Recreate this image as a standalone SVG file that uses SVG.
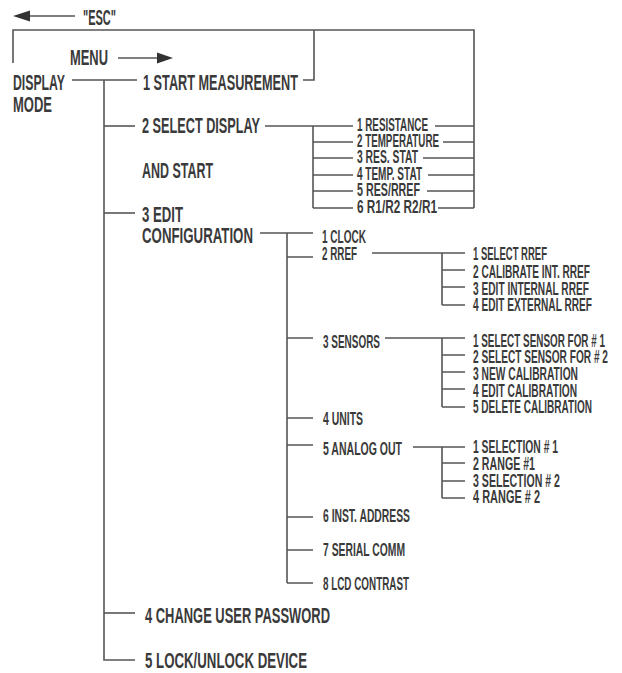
<svg xmlns="http://www.w3.org/2000/svg" width="622" height="673" viewBox="0 0 622 673">
<style>
.t{font-family:"Liberation Sans Narrow","Liberation Sans",Arial,sans-serif;font-weight:bold;fill:#3a3a3a}
.L{font-size:22px}
.S{font-size:18px}
.c{stroke:#555;stroke-width:1.6;fill:none}
.a{fill:#333}
</style>
<rect width="622" height="673" fill="#fff"/>
<g id="connectors" class="c">
<path d="M13,63 V30 H474 V208"/>
<path d="M303,80 H314 V30"/>
<path d="M72,80 H137"/>
<path d="M104,80 V660 H135"/>
<path d="M104,126 H135"/>
<path d="M104,213 H135"/>
<path d="M104,613 H135"/>
<path d="M265,126 H353"/>
<path d="M313,126 V208"/>
<path d="M313,142 H353 M313,158 H353 M313,175 H353 M313,191 H353 M313,208 H353"/>
<path d="M435,126 H474 M443,142 H474 M423,158 H474 M428,175 H474 M427,191 H474 M438,208 H474"/>
<path d="M260,233 H313"/>
<path d="M287,233 V583"/>
<path d="M287,257 H313 M287,338 H313 M287,418 H313 M287,445 H313 M287,517 H313 M287,550 H313 M287,583 H313"/>
<path d="M372,253 H465 M442,253 V305 M442,270 H465 M442,287 H465 M442,305 H465"/>
<path d="M385,338 H465 M442,338 V407 M442,355 H465 M442,372 H465 M442,389 H465 M442,407 H465"/>
<path d="M413,447 H465 M442,447 V498 M442,463 H465 M442,481 H465 M442,498 H465"/>
<path d="M28,16 H75"/>
<path d="M118,58 H160"/>
</g>
<g id="arrows">
<polygon class="a" points="13,16 30,10.5 30,21.5"/>
<polygon class="a" points="173,58 157,52.5 157,63.5"/>
</g>
<g id="esc"><text class="t L" x="83" y="25" textLength="33" lengthAdjust="spacingAndGlyphs">"ESC"</text></g>
<g id="menu"><text class="t L" x="70" y="65" textLength="38" lengthAdjust="spacingAndGlyphs">MENU</text></g>
<g id="display-mode">
<text class="t L" x="13" y="90" textLength="52" lengthAdjust="spacingAndGlyphs">DISPLAY</text>
<text class="t L" x="13" y="112" textLength="39" lengthAdjust="spacingAndGlyphs">MODE</text>
</g>
<g id="start-measurement"><text class="t L" x="143" y="90" textLength="155" lengthAdjust="spacingAndGlyphs">1 START MEASUREMENT</text></g>
<g id="select-display">
<text class="t L" x="142" y="133" textLength="118" lengthAdjust="spacingAndGlyphs">2 SELECT DISPLAY</text>
<text class="t L" x="142" y="178" textLength="71" lengthAdjust="spacingAndGlyphs">AND START</text>
</g>
<g id="display-options">
<text class="t S" x="357" y="131" textLength="71" lengthAdjust="spacingAndGlyphs">1 RESISTANCE</text>
<text class="t S" x="357" y="147" textLength="82" lengthAdjust="spacingAndGlyphs">2 TEMPERATURE</text>
<text class="t S" x="357" y="163" textLength="61" lengthAdjust="spacingAndGlyphs">3 RES. STAT</text>
<text class="t S" x="357" y="180" textLength="65" lengthAdjust="spacingAndGlyphs">4 TEMP. STAT</text>
<text class="t S" x="357" y="196" textLength="63" lengthAdjust="spacingAndGlyphs">5 RES/RREF</text>
<text class="t S" x="357" y="213" textLength="80" lengthAdjust="spacingAndGlyphs">6 R1/R2 R2/R1</text>
</g>
<g id="edit-configuration">
<text class="t L" x="142" y="222" textLength="41" lengthAdjust="spacingAndGlyphs">3 EDIT</text>
<text class="t L" x="142" y="243" textLength="111" lengthAdjust="spacingAndGlyphs">CONFIGURATION</text>
</g>
<g id="clock"><text class="t S" x="322" y="243" textLength="44" lengthAdjust="spacingAndGlyphs">1 CLOCK</text></g>
<g id="rref"><text class="t S" x="322" y="260" textLength="35" lengthAdjust="spacingAndGlyphs">2 RREF</text></g>
<g id="rref-options">
<text class="t S" x="473" y="260" textLength="74" lengthAdjust="spacingAndGlyphs">1 SELECT RREF</text>
<text class="t S" x="473" y="278" textLength="117" lengthAdjust="spacingAndGlyphs">2 CALIBRATE INT. RREF</text>
<text class="t S" x="473" y="295" textLength="116" lengthAdjust="spacingAndGlyphs">3 EDIT INTERNAL RREF</text>
<text class="t S" x="473" y="311" textLength="119" lengthAdjust="spacingAndGlyphs">4 EDIT EXTERNAL RREF</text>
</g>
<g id="sensors"><text class="t S" x="323" y="348" textLength="57" lengthAdjust="spacingAndGlyphs">3 SENSORS</text></g>
<g id="sensor-options">
<text class="t S" x="473" y="347" textLength="132" lengthAdjust="spacingAndGlyphs">1 SELECT SENSOR FOR # 1</text>
<text class="t S" x="473" y="363" textLength="135" lengthAdjust="spacingAndGlyphs">2 SELECT SENSOR FOR # 2</text>
<text class="t S" x="473" y="380" textLength="105" lengthAdjust="spacingAndGlyphs">3 NEW CALIBRATION</text>
<text class="t S" x="473" y="397" textLength="104" lengthAdjust="spacingAndGlyphs">4 EDIT CALIBRATION</text>
<text class="t S" x="473" y="413" textLength="119" lengthAdjust="spacingAndGlyphs">5 DELETE CALIBRATION</text>
</g>
<g id="units"><text class="t S" x="323" y="425" textLength="40" lengthAdjust="spacingAndGlyphs">4 UNITS</text></g>
<g id="analog-out"><text class="t S" x="323" y="455" textLength="79" lengthAdjust="spacingAndGlyphs">5 ANALOG OUT</text></g>
<g id="analog-options">
<text class="t S" x="473" y="453" textLength="85" lengthAdjust="spacingAndGlyphs">1 SELECTION # 1</text>
<text class="t S" x="473" y="470" textLength="62" lengthAdjust="spacingAndGlyphs">2 RANGE #1</text>
<text class="t S" x="473" y="487" textLength="87" lengthAdjust="spacingAndGlyphs">3 SELECTION # 2</text>
<text class="t S" x="473" y="503" textLength="67" lengthAdjust="spacingAndGlyphs">4 RANGE # 2</text>
</g>
<g id="inst-address"><text class="t S" x="323" y="522" textLength="87" lengthAdjust="spacingAndGlyphs">6 INST. ADDRESS</text></g>
<g id="serial-comm"><text class="t S" x="323" y="556" textLength="82" lengthAdjust="spacingAndGlyphs">7 SERIAL COMM</text></g>
<g id="lcd-contrast"><text class="t S" x="323" y="590" textLength="86" lengthAdjust="spacingAndGlyphs">8 LCD CONTRAST</text></g>
<g id="change-password"><text class="t L" x="145" y="623" textLength="185" lengthAdjust="spacingAndGlyphs">4 CHANGE USER PASSWORD</text></g>
<g id="lock-unlock"><text class="t L" x="145" y="668" textLength="162" lengthAdjust="spacingAndGlyphs">5 LOCK/UNLOCK DEVICE</text></g>
</svg>
